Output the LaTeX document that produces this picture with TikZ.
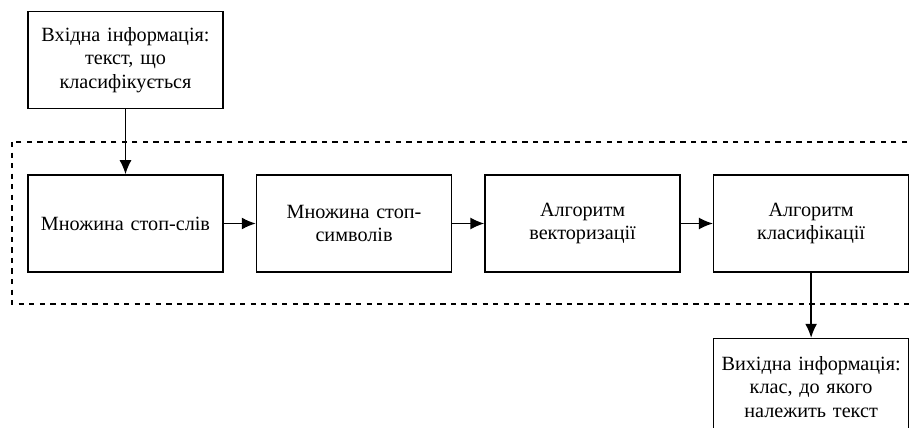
\documentclass[tikz,border=0pt]{standalone}
\usepackage{fontspec}
\setmainfont{Liberation Serif}
\usetikzlibrary{arrows.meta,positioning}

\begin{document}
\begin{tikzpicture}[x=0.02cm,y=-0.02cm,
        blok/.style={draw, line width=0.9pt, minimum width=3.9cm, minimum height=1.94cm,
            text width=3.7cm, align=center, inner sep=0pt, font=\fontsize{11.5}{13.5}\selectfont},
        strilka/.style={-{Latex[length=2.8mm,width=2.4mm]}, line width=0.8pt}]
        \useasboundingbox (0,0) rectangle (911,428);
        \clip (0,0) rectangle (911,428);

        % group of processing steps
        \draw[dashed, line width=0.7pt] (12,142) rectangle (930,304);

        \node[blok] (vhid) at (125.5,60) {Вхідна інформація:\\текст, що\\класифікується};

        \node[blok] (slova) at (125.5,223.5) {Множина стоп-слів};
        \node[blok, right=0.64cm of slova] (symvoly) {Множина стоп-\\символів};
        \node[blok, right=0.64cm of symvoly] (vektor) {Алгоритм\\векторизації};
        \node[blok, right=0.64cm of vektor] (klas) {Алгоритм\\класифікації};

        \node[blok, below=1.3cm of klas] (vyhid) {Вихідна інформація:\\клас, до якого\\належить текст};

        % arrows
        \draw[strilka] (vhid) -- (slova);
        \draw[strilka] (slova) -- (symvoly);
        \draw[strilka] (symvoly) -- (vektor);
        \draw[strilka] (vektor) -- (klas);
        \draw[strilka] (klas) -- (vyhid);
    \end{tikzpicture}
\end{document}
